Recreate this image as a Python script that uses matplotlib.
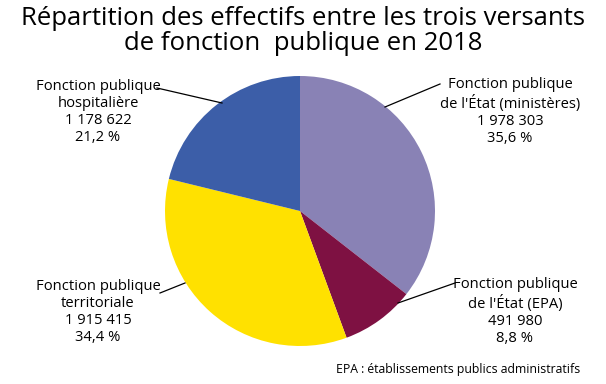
import matplotlib
matplotlib.use("Agg")
import matplotlib.pyplot as plt

# Données
versants = ["Fonction publique\nde l'État (ministères)", "Fonction publique\nde l'État (EPA)",
            "Fonction publique\nterritoriale", "Fonction publique\nhospitalière"]
effectifs = [1978303, 491980, 1915415, 1178622]
effectifs_txt = ["1 978 303", "491 980", "1 915 415", "1 178 622"]
parts_txt = ["35,6 %", "8,8 %", "34,4 %", "21,2 %"]
couleurs = ["#8982b5", "#7e1142", "#ffe100", "#3c5ea8"]

plt.rcParams['font.family'] = ['Open Sans', 'DejaVu Sans']

W, H = 606, 384
fig = plt.figure(figsize=(W / 100, H / 100), dpi=100)
ax = fig.add_axes([0, 0, 1, 1])

ax.pie(effectifs, colors=couleurs, startangle=90, counterclock=False,
       center=(300, H - 211), radius=135, frame=True)
ax.set_xlim(0, W)
ax.set_ylim(0, H)
ax.set_aspect('auto')
ax.axis('off')

# positions des étiquettes (pixels) et des traits de rappel
pos = [(510, 112), (515, 312), (98, 312), (98, 112)]
traits = [((440, 84), (385, 107)), ((455, 283), (398, 303)),
          ((160, 293), (185, 283)), ((157, 88), (222, 103))]

for i in range(4):
    x, y = pos[i]
    txt = versants[i] + "\n" + effectifs_txt[i] + "\n" + parts_txt[i]
    ax.text(x, H - y, txt, ha='center', va='center', fontsize=10.6,
            linespacing=1.2, color='black')
    (x1, y1), (x2, y2) = traits[i]
    ax.plot([x1, x2], [H - y1, H - y2], color='black', lw=0.9)

ax.text(303, H - 31, "Répartition des effectifs entre les trois versants\nde fonction  publique en 2018",
        ha='center', va='center', fontsize=18.5, linespacing=0.95)

ax.text(580, H - 370, "EPA : établissements publics administratifs",
        ha='right', va='center', fontsize=8.8)

fig.savefig("out.png", dpi=100)
